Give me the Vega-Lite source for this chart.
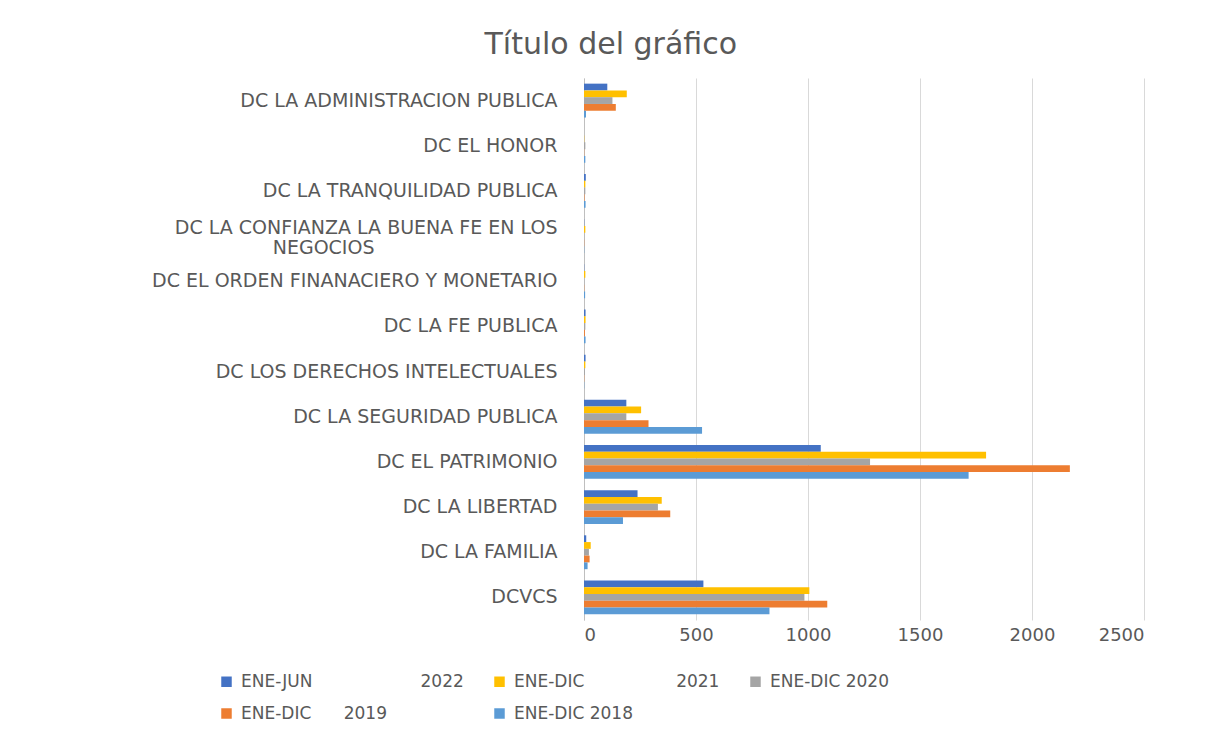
{
  "$schema": "https://vega.github.io/schema/vega-lite/v6.json",
  "autosize": "none",
  "padding": {"left": 584, "top": 78, "right": 64, "bottom": 111},
  "width": 560,
  "height": 542,
  "background": "white",
  "title": {
    "text": "Título del gráfico",
    "anchor": "middle",
    "frame": "bounds",
    "font": "DejaVu Sans",
    "fontSize": 30,
    "fontWeight": "normal",
    "color": "#595959",
    "offset": 18,
    "dx": -37
  },
  "config": {
    "view": {"stroke": null},
    "font": "DejaVu Sans"
  },
  "data": {
    "values": [
      {"categoria": "DC LA ADMINISTRACION PUBLICA", "serie": "ENE-JUN 2022", "valor": 104},
      {"categoria": "DC LA ADMINISTRACION PUBLICA", "serie": "ENE-DIC 2021", "valor": 191},
      {"categoria": "DC LA ADMINISTRACION PUBLICA", "serie": "ENE-DIC 2020", "valor": 127},
      {"categoria": "DC LA ADMINISTRACION PUBLICA", "serie": "ENE-DIC 2019", "valor": 142},
      {"categoria": "DC LA ADMINISTRACION PUBLICA", "serie": "ENE-DIC 2018", "valor": 9},
      {"categoria": "DC EL HONOR", "serie": "ENE-JUN 2022", "valor": 0},
      {"categoria": "DC EL HONOR", "serie": "ENE-DIC 2021", "valor": 1},
      {"categoria": "DC EL HONOR", "serie": "ENE-DIC 2020", "valor": 6},
      {"categoria": "DC EL HONOR", "serie": "ENE-DIC 2019", "valor": 1},
      {"categoria": "DC EL HONOR", "serie": "ENE-DIC 2018", "valor": 6},
      {"categoria": "DC LA TRANQUILIDAD PUBLICA", "serie": "ENE-JUN 2022", "valor": 8},
      {"categoria": "DC LA TRANQUILIDAD PUBLICA", "serie": "ENE-DIC 2021", "valor": 6},
      {"categoria": "DC LA TRANQUILIDAD PUBLICA", "serie": "ENE-DIC 2020", "valor": 6},
      {"categoria": "DC LA TRANQUILIDAD PUBLICA", "serie": "ENE-DIC 2019", "valor": 2},
      {"categoria": "DC LA TRANQUILIDAD PUBLICA", "serie": "ENE-DIC 2018", "valor": 7},
      {"categoria": "DC LA CONFIANZA LA BUENA FE EN LOS NEGOCIOS", "serie": "ENE-JUN 2022", "valor": 1},
      {"categoria": "DC LA CONFIANZA LA BUENA FE EN LOS NEGOCIOS", "serie": "ENE-DIC 2021", "valor": 6},
      {"categoria": "DC LA CONFIANZA LA BUENA FE EN LOS NEGOCIOS", "serie": "ENE-DIC 2020", "valor": 1},
      {"categoria": "DC LA CONFIANZA LA BUENA FE EN LOS NEGOCIOS", "serie": "ENE-DIC 2019", "valor": 1},
      {"categoria": "DC LA CONFIANZA LA BUENA FE EN LOS NEGOCIOS", "serie": "ENE-DIC 2018", "valor": 1},
      {"categoria": "DC EL ORDEN FINANACIERO Y MONETARIO", "serie": "ENE-JUN 2022", "valor": 1},
      {"categoria": "DC EL ORDEN FINANACIERO Y MONETARIO", "serie": "ENE-DIC 2021", "valor": 6},
      {"categoria": "DC EL ORDEN FINANACIERO Y MONETARIO", "serie": "ENE-DIC 2020", "valor": 1},
      {"categoria": "DC EL ORDEN FINANACIERO Y MONETARIO", "serie": "ENE-DIC 2019", "valor": 1},
      {"categoria": "DC EL ORDEN FINANACIERO Y MONETARIO", "serie": "ENE-DIC 2018", "valor": 5},
      {"categoria": "DC LA FE PUBLICA", "serie": "ENE-JUN 2022", "valor": 7},
      {"categoria": "DC LA FE PUBLICA", "serie": "ENE-DIC 2021", "valor": 7},
      {"categoria": "DC LA FE PUBLICA", "serie": "ENE-DIC 2020", "valor": 6},
      {"categoria": "DC LA FE PUBLICA", "serie": "ENE-DIC 2019", "valor": 4},
      {"categoria": "DC LA FE PUBLICA", "serie": "ENE-DIC 2018", "valor": 7},
      {"categoria": "DC LOS DERECHOS INTELECTUALES", "serie": "ENE-JUN 2022", "valor": 7},
      {"categoria": "DC LOS DERECHOS INTELECTUALES", "serie": "ENE-DIC 2021", "valor": 6},
      {"categoria": "DC LOS DERECHOS INTELECTUALES", "serie": "ENE-DIC 2020", "valor": 4},
      {"categoria": "DC LOS DERECHOS INTELECTUALES", "serie": "ENE-DIC 2019", "valor": 1},
      {"categoria": "DC LOS DERECHOS INTELECTUALES", "serie": "ENE-DIC 2018", "valor": 1},
      {"categoria": "DC LA SEGURIDAD PUBLICA", "serie": "ENE-JUN 2022", "valor": 189},
      {"categoria": "DC LA SEGURIDAD PUBLICA", "serie": "ENE-DIC 2021", "valor": 255},
      {"categoria": "DC LA SEGURIDAD PUBLICA", "serie": "ENE-DIC 2020", "valor": 189},
      {"categoria": "DC LA SEGURIDAD PUBLICA", "serie": "ENE-DIC 2019", "valor": 288},
      {"categoria": "DC LA SEGURIDAD PUBLICA", "serie": "ENE-DIC 2018", "valor": 527},
      {"categoria": "DC EL PATRIMONIO", "serie": "ENE-JUN 2022", "valor": 1057},
      {"categoria": "DC EL PATRIMONIO", "serie": "ENE-DIC 2021", "valor": 1795},
      {"categoria": "DC EL PATRIMONIO", "serie": "ENE-DIC 2020", "valor": 1277},
      {"categoria": "DC EL PATRIMONIO", "serie": "ENE-DIC 2019", "valor": 2169},
      {"categoria": "DC EL PATRIMONIO", "serie": "ENE-DIC 2018", "valor": 1717},
      {"categoria": "DC LA LIBERTAD", "serie": "ENE-JUN 2022", "valor": 239},
      {"categoria": "DC LA LIBERTAD", "serie": "ENE-DIC 2021", "valor": 347},
      {"categoria": "DC LA LIBERTAD", "serie": "ENE-DIC 2020", "valor": 330},
      {"categoria": "DC LA LIBERTAD", "serie": "ENE-DIC 2019", "valor": 385},
      {"categoria": "DC LA LIBERTAD", "serie": "ENE-DIC 2018", "valor": 174},
      {"categoria": "DC LA FAMILIA", "serie": "ENE-JUN 2022", "valor": 10},
      {"categoria": "DC LA FAMILIA", "serie": "ENE-DIC 2021", "valor": 30},
      {"categoria": "DC LA FAMILIA", "serie": "ENE-DIC 2020", "valor": 22},
      {"categoria": "DC LA FAMILIA", "serie": "ENE-DIC 2019", "valor": 25},
      {"categoria": "DC LA FAMILIA", "serie": "ENE-DIC 2018", "valor": 16},
      {"categoria": "DCVCS", "serie": "ENE-JUN 2022", "valor": 533},
      {"categoria": "DCVCS", "serie": "ENE-DIC 2021", "valor": 1006},
      {"categoria": "DCVCS", "serie": "ENE-DIC 2020", "valor": 984},
      {"categoria": "DCVCS", "serie": "ENE-DIC 2019", "valor": 1086},
      {"categoria": "DCVCS", "serie": "ENE-DIC 2018", "valor": 828}
    ]
  },
  "mark": {"type": "bar"},
  "encoding": {
    "y": {
      "field": "categoria",
      "type": "nominal",
      "sort": null,
      "scale": {"paddingInner": 0.25, "paddingOuter": 0.125},
      "axis": {
        "title": null,
        "ticks": false,
        "domain": true,
        "domainColor": "#bfbfbf",
        "labelFont": "DejaVu Sans",
        "labelFontSize": 19,
        "labelColor": "#595959",
        "labelPadding": 27,
        "labelLimit": 0,
        "labelLineHeight": 20,
        "labelOffset": {"condition": {"test": "datum.value == 'DC LA CONFIANZA LA BUENA FE EN LOS NEGOCIOS'", "value": -8}, "value": 0},
        "labelExpr": "datum.value == 'DC LA CONFIANZA LA BUENA FE EN LOS NEGOCIOS' ? ['DC LA CONFIANZA LA BUENA FE EN LOS', pad('NEGOCIOS', 36, '\u00a0') + '\u2800'] : datum.label"
      }
    },
    "yOffset": {
      "field": "serie",
      "type": "nominal",
      "sort": ["ENE-JUN 2022", "ENE-DIC 2021", "ENE-DIC 2020", "ENE-DIC 2019", "ENE-DIC 2018"],
      "scale": {"paddingInner": 0, "paddingOuter": 0}
    },
    "x": {
      "field": "valor",
      "type": "quantitative",
      "scale": {"domain": [0, 2500], "nice": false},
      "axis": {
        "title": null,
        "values": [0, 500, 1000, 1500, 2000, 2500],
        "format": "d",
        "domain": false,
        "ticks": false,
        "grid": true,
        "gridColor": "#d9d9d9",
        "labelFont": "DejaVu Sans",
        "labelFontSize": 18,
        "labelColor": "#595959",
        "labelPadding": 6
      }
    },
    "color": {
      "field": "serie",
      "type": "nominal",
      "sort": ["ENE-JUN 2022", "ENE-DIC 2021", "ENE-DIC 2020", "ENE-DIC 2019", "ENE-DIC 2018"],
      "scale": {
        "domain": ["ENE-JUN 2022", "ENE-DIC 2021", "ENE-DIC 2020", "ENE-DIC 2019", "ENE-DIC 2018"],
        "range": ["#4472C4", "#FFC000", "#A5A5A5", "#ED7D31", "#5B9BD5"]
      },
      "legend": {
        "title": null,
        "orient": "none",
        "legendX": -366,
        "legendY": 595,
        "direction": "horizontal",
        "columns": 3,
        "columnPadding": 27,
        "rowPadding": 14,
        "symbolType": "square",
        "symbolSize": 110,
        "symbolStrokeWidth": 0,
        "labelFont": "DejaVu Sans",
        "labelFontSize": 17,
        "labelColor": "#595959",
        "labelLimit": 0,
        "labelOffset": 6,
        "labelExpr": "datum.label == 'ENE-JUN 2022' ? 'ENE-JUN' + pad('', 20, '\u00a0') + '2022' : datum.label == 'ENE-DIC 2021' ? 'ENE-DIC' + pad('', 17, '\u00a0') + '2021' : datum.label == 'ENE-DIC 2019' ? 'ENE-DIC' + pad('', 6, '\u00a0') + '2019' : datum.label"
      }
    }
  }
}
